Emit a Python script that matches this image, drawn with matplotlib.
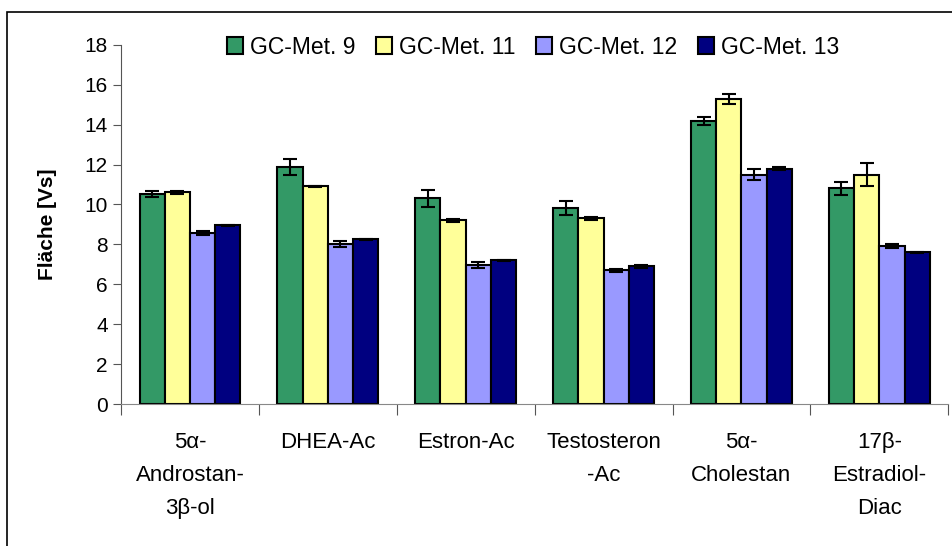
import matplotlib.pyplot as plt
import numpy as np
from matplotlib.patches import Rectangle

plt.rcParams['font.family'] = ['Liberation Sans', 'DejaVu Sans']

# data
categories = ["5\u03b1-\nAndrostan-\n3\u03b2-ol", "DHEA-Ac", "Estron-Ac",
              "Testosteron\n-Ac", "5\u03b1-\nCholestan", "17\u03b2-\nEstradiol-\nDiac"]
series = ["GC-Met. 9", "GC-Met. 11", "GC-Met. 12", "GC-Met. 13"]
met9 = [10.5, 11.9, 10.3, 9.8, 14.2, 10.8]
met11 = [10.6, 10.9, 9.2, 9.3, 15.3, 11.5]
met12 = [8.55, 8.0, 6.95, 6.7, 11.5, 7.9]
met13 = [8.95, 8.25, 7.2, 6.9, 11.8, 7.6]
err9 = [0.15, 0.4, 0.42, 0.35, 0.2, 0.33]
err11 = [0.08, 0.04, 0.07, 0.08, 0.25, 0.58]
err12 = [0.1, 0.15, 0.15, 0.07, 0.3, 0.1]
err13 = [0.02, 0.03, 0.03, 0.07, 0.08, 0.04]
colors = ["#339966", "#FFFF99", "#9999FF", "#000080"]

values = [met9, met11, met12, met13]
errors = [err9, err11, err12, err13]

fig = plt.figure(figsize=(9.53, 5.46), dpi=100)
ax = fig.add_axes([0.127, 0.26, 0.868, 0.658])

x = np.arange(len(categories))
w = 0.183
for i in range(4):
    ax.bar(x + (i - 1.5) * w, values[i], w, color=colors[i], edgecolor="black",
           linewidth=1.5, label=series[i], yerr=errors[i], capsize=5,
           error_kw=dict(ecolor="black", elinewidth=1.5, capthick=1.5))

ax.set_xlim(-0.5, len(categories) - 0.5)
ax.set_ylim(0, 18)
ax.set_yticks(range(0, 19, 2))
ax.tick_params(axis="y", labelsize=15, direction="out", length=6, color="#555555")
ax.set_xticks(np.arange(-0.5, len(categories), 1.0))
ax.set_xticklabels([])
ax.tick_params(axis="x", which="major", length=8, color="#555555")
ax.set_xticks(x, minor=True)
ax.set_xticklabels(categories, minor=True, fontsize=16, linespacing=1.75, va="top")
ax.tick_params(axis="x", which="minor", length=0, pad=20)

for s in ["top", "right"]:
    ax.spines[s].set_visible(False)
ax.spines["left"].set_color("#555555")
ax.spines["bottom"].set_color("#888888")

ax.set_ylabel("Fl\u00e4che [Vs]", fontsize=15, fontweight="bold")
ax.yaxis.set_label_coords(-0.078, 0.5)

fig.legend(loc="center", bbox_to_anchor=(533 / 953, 1 - 47 / 546), ncol=4,
           frameon=False, fontsize=16.5, handlelength=0.7, handleheight=0.7,
           handletextpad=0.3, columnspacing=0.9)

fig.patches.append(Rectangle((7 / 953, -0.05), 1.1, 1 - 12 / 546 + 0.05,
                             transform=fig.transFigure, fill=False,
                             edgecolor="black", linewidth=1.2))

fig.savefig("out.png", dpi=100)
